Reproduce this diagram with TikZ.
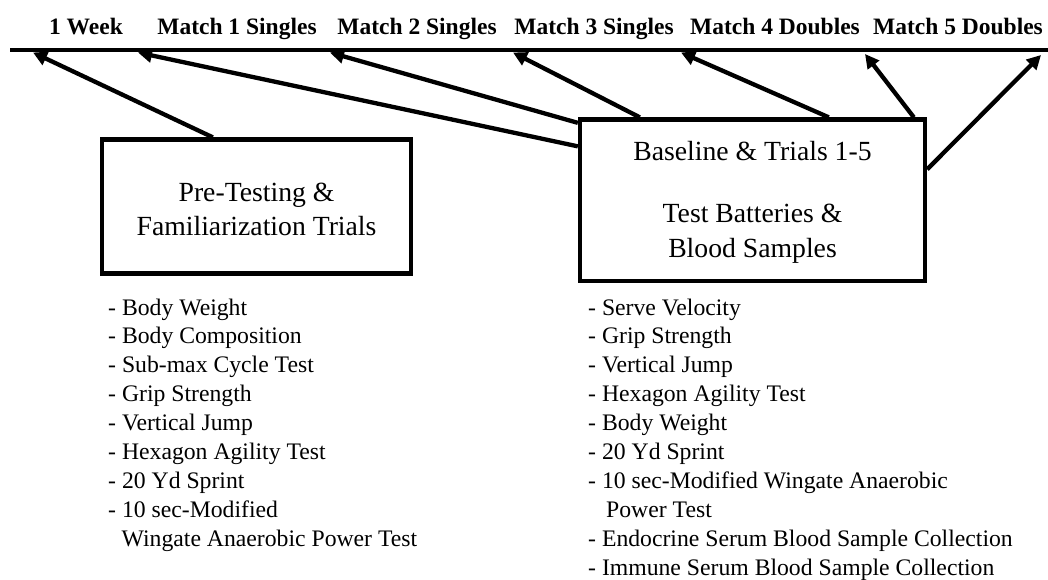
\documentclass[tikz,border=0pt]{standalone}
\usepackage{fontspec}
\setmainfont{Liberation Serif}
\usetikzlibrary{arrows.meta}
\tikzset{
  head/.style={font=\fontsize{23.5}{26}\selectfont\bfseries, anchor=base, inner sep=0pt},
  boxnode/.style={draw, line width=4.3pt, inner sep=0pt},
  boxtext/.style={font=\fontsize{27.7}{33}\selectfont, anchor=base, inner sep=0pt},
  item/.style={font=\fontsize{23.7}{29}\selectfont, anchor=base west, inner sep=0pt},
  arr/.style={line width=4.3pt, -{Triangle[length=14pt,width=14pt]}},
  timeline/.style={line width=4.6pt}
}
\begin{document}
\begin{tikzpicture}[x=1pt,y=-1pt]
\useasboundingbox (0,0) rectangle (1048,579);
% headings
\node[head] (h0) at (86,34) {1 Week};
\node[head] (h1) at (237,34) {Match 1 Singles};
\node[head] (h2) at (417,34) {Match 2 Singles};
\node[head] (h3) at (594,34) {Match 3 Singles};
\node[head] (h4) at (775,34) {Match 4 Doubles};
\node[head] (h5) at (958,34) {Match 5 Doubles};
% timeline
\coordinate (tl0) at (10,50);
\coordinate (tl1) at (1048,50);
\draw[timeline] (tl0) -- (tl1);
% arrow tips on the timeline
\coordinate (t0) at (33,52.5);
\coordinate (t1) at (138,52.5);
\coordinate (t2) at (330,52.5);
\coordinate (t3) at (513,52.5);
\coordinate (t4) at (681,52.5);
\coordinate (t5) at (865,54);
\coordinate (t6) at (1041,55);
% boxes
\node[boxnode, minimum width=309pt, minimum height=134pt] (L) at (256.5,206.5) {};
\node[boxnode, minimum width=345pt, minimum height=161.5pt] (R) at (752.5,200.25) {};
\node[boxtext] (L1) at (256.5,201.7) {Pre-Testing \&};
\node[boxtext] (L2) at (256.5,235) {Familiarization Trials};
\node[boxtext] (R1) at (752.5,160) {Baseline \& Trials 1-5};
\node[boxtext] (R2) at (752.5,222) {Test Batteries \&};
\node[boxtext] (R3) at (752.5,257) {Blood Samples};
% arrows
\draw[arr] ([xshift=113pt]L.north west) -- (t0);
\draw[arr] ([yshift=-29pt]R.north west) -- (t1);
\draw[arr] ([yshift=-5.5pt]R.north west) -- (t2);
\draw[arr] ([xshift=62pt]R.north west) -- (t3);
\draw[arr] ([xshift=251pt]R.north west) -- (t4);
\draw[arr] ([xshift=336pt]R.north west) -- (t5);
\draw[arr] ([yshift=-52pt]R.north east) -- (t6);
% left list
\foreach \t [count=\i] in {- Body Weight, - Body Composition, - Sub-max Cycle Test, - Grip Strength, - Vertical Jump, - Hexagon Agility Test, - 20 Yd Sprint, - 10 sec-Modified}
  \node[item] (a\i) at (108,{315+28.9*(\i-1)}) {\t};
\node[item] (a9) at (121.5,546.2) {Wingate Anaerobic Power Test};
% right list
\foreach \t [count=\i] in {- Serve Velocity, - Grip Strength, - Vertical Jump, - Hexagon Agility Test, - Body Weight, - 20 Yd Sprint, - 10 sec-Modified Wingate Anaerobic}
  \node[item] (b\i) at (588,{315+28.9*(\i-1)}) {\t};
\node[item] (b8) at (606,517.3) {Power Test};
\node[item] (b9) at (588,546.2) {- Endocrine Serum Blood Sample Collection};
\node[item] (b10) at (588,575.1) {- Immune Serum Blood Sample Collection};
\end{tikzpicture}
\end{document}
